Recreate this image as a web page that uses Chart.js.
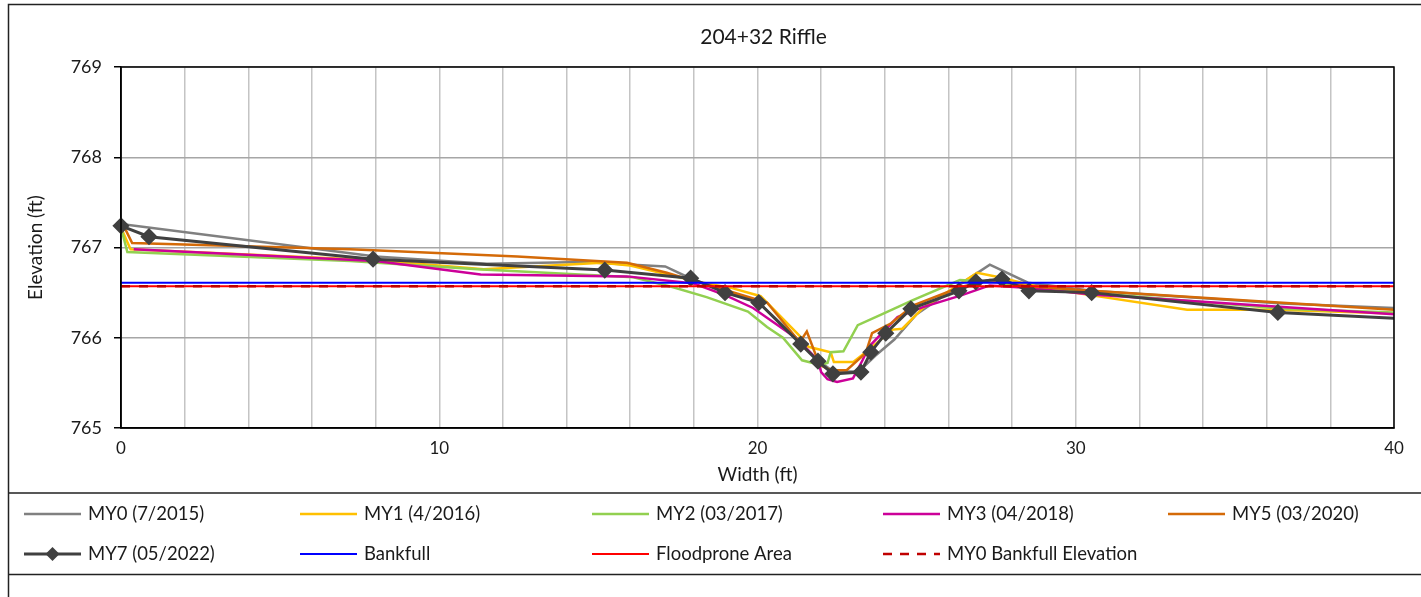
<!DOCTYPE html>
<html lang="en">
<head>
<meta charset="utf-8">
<title>204+32 Riffle</title>
<script src="https://cdn.jsdelivr.net/npm/chart.js@4/dist/chart.umd.min.js"></script>
<style>
  html, body { margin: 0; padding: 0; background: #fff; }
  #wrap { width: 1421px; height: 597px; }
</style>
</head>
<body>
<div id="wrap"><canvas id="chart" width="1421" height="597"></canvas></div>
<script>
// survey data, width (ft) / elevation (ft)
var my0X = [0, 8, 11.5, 14.5, 17.1, 18, 19, 20, 21.3, 21.9, 22.4, 23.2, 23.7, 24.3, 25.0, 26.4, 27.3, 28.5, 30.5, 36.5, 40];
var my0Y = [767.26, 766.90, 766.82, 766.84, 766.79, 766.64, 766.52, 766.40, 765.97, 765.75, 765.62, 765.63, 765.80, 765.98, 766.26, 766.60, 766.81, 766.61, 766.52, 766.38, 766.33];

var my1X = [0, 0.3, 8, 11.4, 15.1, 16.0, 18, 19.2, 20.1, 21.3, 21.6, 22.3, 22.4, 23.0, 23.4, 24.25, 24.55, 25.2, 26.9, 27.6, 29, 33.5, 36.3, 40];
var my1Y = [767.22, 766.98, 766.86, 766.76, 766.83, 766.80, 766.63, 766.55, 766.46, 766.03, 765.90, 765.84, 765.73, 765.73, 765.84, 766.09, 766.10, 766.33, 766.72, 766.67, 766.55, 766.31, 766.31, 766.27];

var my2X = [0, 0.2, 7.2, 11.2, 16.1, 17.35, 18.4, 19.7, 20.3, 20.8, 21.4, 21.95, 22.2, 22.3, 22.7, 23.15, 23.85, 24.9, 26.36, 27.4, 28.5, 30.5, 36.5, 40];
var my2Y = [767.22, 766.95, 766.85, 766.76, 766.67, 766.56, 766.45, 766.29, 766.12, 766.00, 765.75, 765.70, 765.72, 765.84, 765.85, 766.14, 766.25, 766.42, 766.64, 766.62, 766.56, 766.50, 766.32, 766.28];

var my3X = [0.4, 8, 11.3, 15.9, 18, 19, 19.86, 21.2, 21.9, 22.0, 22.2, 22.5, 23.0, 23.3, 23.5, 24.4, 25.2, 26.4, 27.3, 28.56, 30.5, 40];
var my3Y = [766.98, 766.85, 766.70, 766.68, 766.60, 766.47, 766.33, 766.00, 765.75, 765.62, 765.54, 765.51, 765.55, 765.75, 765.90, 766.23, 766.34, 766.47, 766.58, 766.55, 766.48, 766.26];

var my5X = [0, 0.35, 7.2, 12.45, 15.9, 17.15, 18, 18.7, 20.3, 21.33, 21.55, 21.95, 22.3, 22.8, 23.4, 23.6, 24.2, 24.9, 26.36, 27.3, 28.5, 30.5, 40];
var my5Y = [767.30, 767.05, 766.98, 766.90, 766.83, 766.72, 766.63, 766.56, 766.39, 765.95, 766.07, 765.70, 765.64, 765.64, 765.83, 766.05, 766.16, 766.36, 766.56, 766.64, 766.57, 766.52, 766.31];

var my7X = [0, 0.88, 7.92, 15.2, 17.9, 18.98, 20.04, 21.36, 21.9, 22.37, 23.25, 23.56, 24.03, 24.82, 26.33, 26.86, 27.68, 28.53, 30.5, 36.35, 41];
var my7Y = [767.24, 767.12, 766.87, 766.75, 766.66, 766.50, 766.39, 765.93, 765.74, 765.60, 765.62, 765.84, 766.05, 766.32, 766.52, 766.62, 766.65, 766.52, 766.50, 766.28, 766.20];

var levelX = [0, 40];
var bankfullY = [766.61, 766.61];
var floodproneY = [766.57, 766.57];
var my0BankfullY = [766.57, 766.57];

var labels = ["MY0 (7/2015)", "MY1 (4/2016)", "MY2 (03/2017)", "MY3 (04/2018)", "MY5 (03/2020)",
              "MY7 (05/2022)", "Bankfull", "Floodprone Area", "MY0 Bankfull Elevation"];
var colors = ["#808080", "#FFC000", "#92D050", "#CC0099", "#D46A08",
              "#404040", "#0000FF", "#FF0000", "#C00000"];
var chartTitle = "204+32 Riffle";

function pts(xs, ys) {
  return xs.map(function (x, i) { return { x: x, y: ys[i] }; });
}

var FONT = "Lato, 'Open Sans', sans-serif";

var seriesX = [my0X, my1X, my2X, my3X, my5X, my7X, levelX, levelX, levelX];
var seriesY = [my0Y, my1Y, my2Y, my3Y, my5Y, my7Y, bankfullY, floodproneY, my0BankfullY];

var datasets = labels.map(function (lab, i) {
  var ds = {
    label: lab,
    data: pts(seriesX[i], seriesY[i]),
    borderColor: colors[i],
    backgroundColor: colors[i],
    borderWidth: i >= 6 ? 2 : 2.5,
    pointRadius: 0,
    tension: 0,
    order: -i
  };
  if (i === 5) {
    ds.borderWidth = 3;
    ds.pointStyle = 'rectRot';
    ds.pointRadius = 6.5;
    ds.pointHoverRadius = 6.5;
    ds.clip = { left: 12, right: 0, top: 5, bottom: 5 };
  }
  if (i === 8) {
    ds.borderWidth = 2.5;
    ds.borderDash = [9, 9];
  }
  return ds;
});

// title, frame, plot box and legend drawn after the chart
var framePlugin = {
  id: 'frame',
  afterDraw: function (chart) {
    var ctx = chart.ctx, a = chart.chartArea;
    ctx.save();
    ctx.strokeStyle = '#000';
    ctx.lineWidth = 1.5;
    ctx.strokeRect(a.left, a.top, a.right - a.left, a.bottom - a.top);

    ctx.fillStyle = '#1a1a1a';
    ctx.font = "21px " + FONT;
    ctx.textAlign = 'center';
    ctx.textBaseline = 'middle';
    ctx.fillText(chartTitle, (a.left + a.right) / 2 + 6, 37);

    ctx.strokeStyle = '#222';
    ctx.lineWidth = 1.5;
    ctx.beginPath();
    ctx.moveTo(8.5, 597); ctx.lineTo(8.5, 4.5); ctx.lineTo(1421, 4.5);
    ctx.moveTo(8, 493); ctx.lineTo(1421, 493);
    ctx.moveTo(8, 574.5); ctx.lineTo(1421, 574.5);
    ctx.stroke();

    // legend, 5 columns x 2 rows
    var cols = [24, 300, 592, 883, 1168];
    var rows = [514, 554];
    ctx.font = "18.5px " + FONT;
    ctx.textAlign = 'left';
    chart.data.datasets.forEach(function (ds, i) {
      var x = cols[i % 5], y = rows[Math.floor(i / 5)];
      ctx.strokeStyle = ds.borderColor;
      ctx.lineWidth = ds.borderWidth;
      ctx.setLineDash(ds.borderDash ? [9, 8] : []);
      ctx.beginPath();
      ctx.moveTo(x, y); ctx.lineTo(x + 57, y);
      ctx.stroke();
      ctx.setLineDash([]);
      if (ds.pointStyle === 'rectRot') {
        ctx.fillStyle = ds.borderColor;
        ctx.beginPath();
        ctx.moveTo(x + 28.5, y - 7); ctx.lineTo(x + 35.5, y);
        ctx.lineTo(x + 28.5, y + 7); ctx.lineTo(x + 21.5, y);
        ctx.closePath(); ctx.fill();
      }
      ctx.fillStyle = '#1a1a1a';
      ctx.fillText(ds.label, x + 64, y);
    });
    ctx.restore();
  }
};

new Chart(document.getElementById('chart'), {
  type: 'line',
  data: { datasets: datasets },
  options: {
    responsive: false,
    animation: false,
    events: [],
    layout: { padding: { top: 67, left: 21, right: 27, bottom: 108 } },
    plugins: {
      legend: { display: false },
      tooltip: { enabled: false },
      title: { display: false }
    },
    scales: {
      x: {
        type: 'linear',
        min: 0, max: 40,
        afterFit: function (s) { s.height = 61; },
        grid: { color: '#c4c4c4', lineWidth: 1.5, drawTicks: false },
        border: { color: '#000', width: 1.5 },
        ticks: {
          stepSize: 2,
          padding: 10,
          color: '#1a1a1a',
          font: { family: FONT, size: 17 },
          maxRotation: 0,
          autoSkip: false,
          callback: function (v) { return v % 10 === 0 ? v : ''; }
        },
        title: {
          display: true,
          text: 'Width (ft)',
          color: '#1a1a1a',
          font: { family: FONT, size: 19 },
          padding: 3
        }
      },
      y: {
        min: 765, max: 769,
        afterFit: function (s) { s.width = 100; },
        grid: { color: '#a6a6a6', lineWidth: 1.5, tickLength: 7, tickColor: '#000' },
        border: { color: '#000', width: 1.5 },
        ticks: {
          stepSize: 1,
          padding: 12,
          color: '#1a1a1a',
          font: { family: FONT, size: 18 }
        },
        title: {
          display: true,
          text: 'Elevation (ft)',
          color: '#1a1a1a',
          font: { family: FONT, size: 19 },
          padding: 3
        }
      }
    }
  },
  plugins: [framePlugin]
});
</script>
</body>
</html>
